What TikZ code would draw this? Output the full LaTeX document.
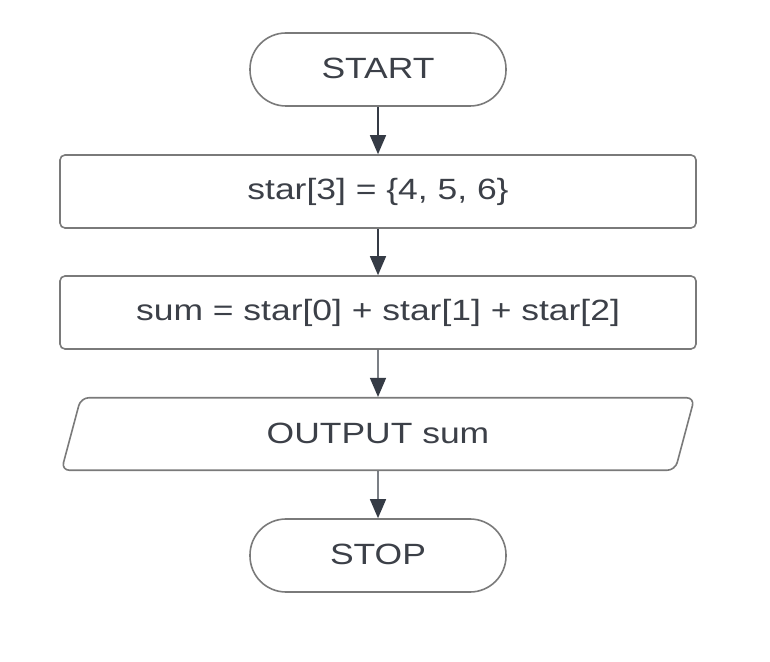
\documentclass[tikz,border=0pt]{standalone}
\usepackage{fontspec}
\setmainfont{Liberation Sans}
\usepackage{graphicx}
\usetikzlibrary{shapes.geometric,arrows.meta}
\definecolor{bordergray}{HTML}{7A7A7A}
\definecolor{arrowgray}{HTML}{353B45}
\definecolor{textgray}{HTML}{3C4048}
\newcommand{\lbl}[1]{\raisebox{1.5pt}{\scalebox{1.21}[1]{\fontsize{29.3}{34}\selectfont #1}}}
\tikzset{
  x=1pt, y=1pt,
  base/.style={draw=bordergray, line width=1.6pt, text=textgray, inner sep=0pt, fill=white},
  term/.style={base, rectangle, rounded corners=36pt, minimum width=256pt, minimum height=73pt},
  procbox/.style={base, rectangle, rounded corners=5pt, minimum width=636pt, minimum height=73pt},
  iobox/.style={base, trapezium, trapezium left angle=71.7, trapezium right angle=108.3,
    trapezium stretches=true, rounded corners=8pt, minimum width=634pt, minimum height=72.5pt},
  arr/.style={draw=arrowgray, line width=1.4pt, -{Triangle[length=19pt,width=16pt]}}
}
\begin{document}
\begin{tikzpicture}
\useasboundingbox (0,0) rectangle (770,661);
\fill[white] (0,0) rectangle (770,661);
\node[term] (start) at (378,591.5) {\lbl{START}};
\node[procbox] (s1) at (378,469.5) {\lbl{star[3] = \{4, 5, 6\}}};
\node[procbox] (s2) at (378,348.5) {\lbl{sum = star[0] + star[1] + star[2]}};
\node[iobox] (out) at (378,227) {\lbl{OUTPUT sum}};
\node[term] (stop) at (378,105.5) {\lbl{STOP}};
\draw[arr] (start) -- (s1);
\draw[arr] (s1) -- (s2);
\draw[arr] (s2) -- (out);
\draw[arr] (out) -- (stop);
\end{tikzpicture}
\end{document}
